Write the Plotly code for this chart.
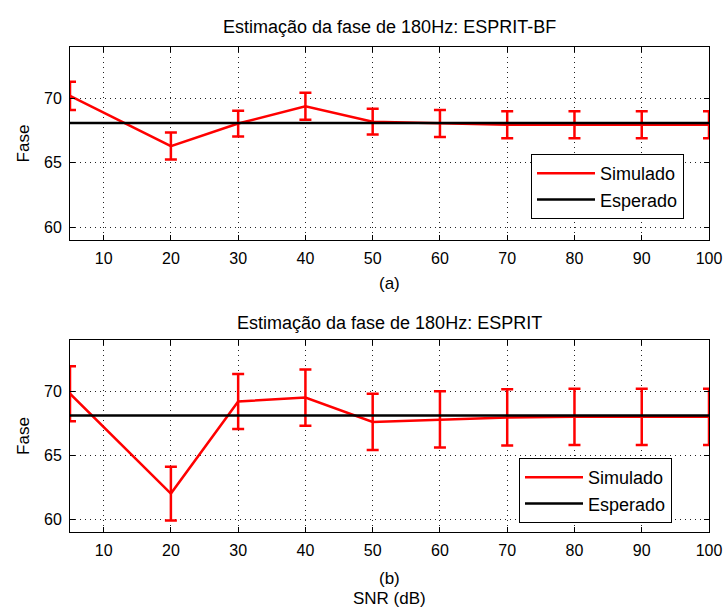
import plotly.graph_objects as go

snr = [5, 20, 30, 40, 50, 60, 70, 80, 90, 100]

bf_mean = [70.2, 66.3, 68.05, 69.4, 68.2, 68.05, 67.95, 67.95, 67.95, 67.95]
bf_err = [1.1, 1.05, 1.0, 1.05, 1.0, 1.05, 1.05, 1.05, 1.05, 1.05]

es_mean = [69.8, 62.0, 69.2, 69.5, 67.6, 67.8, 67.95, 68.0, 68.0, 68.0]
es_err = [2.15, 2.1, 2.15, 2.2, 2.2, 2.2, 2.2, 2.2, 2.2, 2.2]

expected = [68.1] * len(snr)

x_ticks = [10, 20, 30, 40, 50, 60, 70, 80, 90, 100]
y_ticks = [60, 65, 70]

titles = ["Estimação da fase de 180Hz: ESPRIT-BF", "Estimação da fase de 180Hz: ESPRIT"]

FONT = "Liberation Sans, Arial, sans-serif"

fig = go.Figure()

fig.add_trace(go.Scatter(x=snr, y=bf_mean, mode="lines", name="Simulado",
                         line=dict(color="red", width=2.5),
                         error_y=dict(type="data", array=bf_err, color="red", thickness=2.5, width=6),
                         xaxis="x", yaxis="y", legend="legend"))
fig.add_trace(go.Scatter(x=snr, y=expected, mode="lines", name="Esperado",
                         line=dict(color="black", width=2.5),
                         xaxis="x", yaxis="y", legend="legend"))

fig.add_trace(go.Scatter(x=snr, y=es_mean, mode="lines", name="Simulado",
                         line=dict(color="red", width=2.5),
                         error_y=dict(type="data", array=es_err, color="red", thickness=2.5, width=6),
                         xaxis="x2", yaxis="y2", legend="legend2"))
fig.add_trace(go.Scatter(x=snr, y=expected, mode="lines", name="Esperado",
                         line=dict(color="black", width=2.5),
                         xaxis="x2", yaxis="y2", legend="legend2"))

xd = [70 / 723, 709 / 723]
top_dom = [1 - 240 / 608, 1 - 47 / 608]
bot_dom = [1 - 532 / 608, 1 - 340 / 608]

def xax(anchor):
    return dict(domain=xd, anchor=anchor, range=[5, 100], tickvals=x_ticks, automargin=False,
                ticks="inside", ticklen=5, tickcolor="black", showline=True, linecolor="black",
                linewidth=1, mirror="ticks", showgrid=True, gridcolor="#222", griddash="1px,4px",
                gridwidth=1, zeroline=False, tickfont=dict(size=16, color="black"),
                ticklabelstandoff=4)

def yax(anchor, dom):
    return dict(domain=dom, anchor=anchor, range=[59, 74], tickvals=y_ticks, automargin=False,
                ticks="inside", ticklen=5, tickcolor="black", showline=True, linecolor="black",
                linewidth=1, mirror="ticks", showgrid=True, gridcolor="#222", griddash="1px,4px",
                gridwidth=1, zeroline=False, tickfont=dict(size=16, color="black"),
                ticklabelstandoff=4,
                title=dict(text="Fase", font=dict(size=17, color="black"), standoff=10))

leg_common = dict(bgcolor="white", bordercolor="black", borderwidth=1,
                  font=dict(size=18, color="black", family=FONT),
                  xanchor="left", yanchor="top", tracegroupgap=0, itemwidth=58)

def ann(text, y, size):
    return dict(text=text, x=0.539, y=1 - y / 608, xref="paper", yref="paper",
                showarrow=False, font=dict(size=size, color="black"),
                xanchor="center", yanchor="middle")

fig.update_layout(
    width=723, height=608,
    margin=dict(l=0, r=0, t=0, b=0),
    paper_bgcolor="white", plot_bgcolor="white",
    font=dict(family=FONT, color="black"),
    xaxis=xax("y"),
    yaxis=yax("x", top_dom),
    xaxis2=xax("y2"),
    yaxis2=yax("x2", bot_dom),
    legend=dict(x=531 / 723, y=1 - 154 / 608, **leg_common),
    legend2=dict(x=519 / 723, y=1 - 458 / 608, **leg_common),
    annotations=[
        ann(titles[0], 27, 18),
        ann(titles[1], 323, 18),
        ann("(a)", 283, 17),
        ann("(b)", 578, 17),
        ann("SNR (dB)", 598, 17),
    ],
)

fig.write_html("out.html", config={"displayModeBar": False},
               post_script="document.body.style.margin='0';document.body.style.overflow='hidden';")
